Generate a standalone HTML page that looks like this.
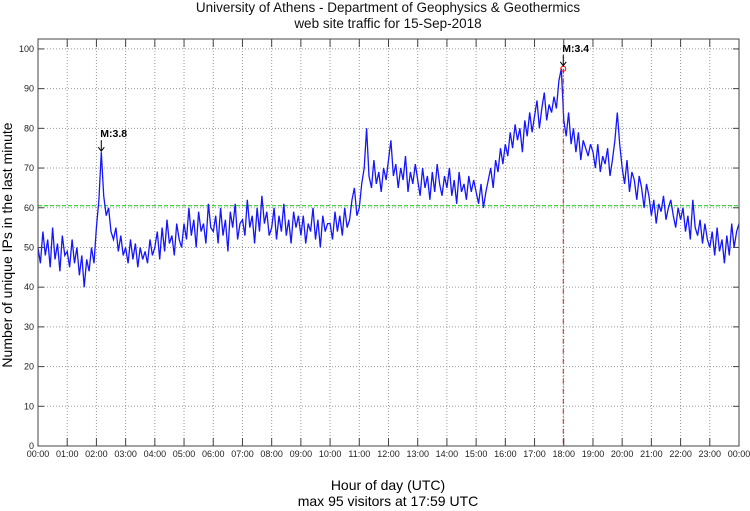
<!DOCTYPE html>
<html><head><meta charset="utf-8"><style>
html,body{margin:0;padding:0;background:#fff;}
svg{display:block;font-family:"Liberation Sans","DejaVu Sans",sans-serif;}
</style></head><body>
<svg id="chart" width="750" height="511" viewBox="0 0 750 511">
<text x="388" y="12" font-size="13.5" text-anchor="middle" fill="#111">University of Athens - Department of Geophysics &amp; Geothermics</text>
<text x="388" y="28" font-size="13.5" text-anchor="middle" fill="#111">web site traffic for 15-Sep-2018</text>
<g id="grid"></g>
<g id="series"></g>
<g id="axes"></g>
<text transform="translate(12,245) rotate(-90)" font-size="14" text-anchor="middle">Number of unique IPs in the last minute</text>
<text x="388" y="490" font-size="14" text-anchor="middle">Hour of day (UTC)</text>
<text x="388" y="506" font-size="14" text-anchor="middle">max 95 visitors at 17:59 UTC</text>
</svg>
<script>
const yTicks=[0,10,20,30,40,50,60,70,80,90,100];
const xTickLabels=["00:00","01:00","02:00","03:00","04:00","05:00","06:00","07:00","08:00","09:00","10:00","11:00","12:00","13:00","14:00","15:00","16:00","17:00","18:00","19:00","20:00","21:00","22:00","23:00","00:00"];
const stepMinutes=5;
const visitors=[
50,46,54,48,52,45,55,47,51,44,53,48,
49,45,52,46,50,43,48,40,47,44,50,46,
55,62,74,63,58,60,54,52,55,49,53,48,
50,46,52,47,51,45,50,47,49,46,52,48,
50,54,47,55,49,57,51,53,48,56,52,50,
56,52,60,53,57,50,59,54,56,51,61,55,
54,58,51,60,53,57,49,59,55,61,52,56,
57,53,62,55,58,51,60,54,63,56,59,53,
55,60,52,58,54,61,53,57,51,59,55,58,
53,58,51,56,54,60,52,57,50,58,54,56,
56,52,59,54,58,53,60,55,57,62,65,58,
60,66,70,80,68,65,72,66,69,64,70,67,
72,77,68,71,65,70,67,73,64,69,66,71,
67,63,70,65,68,62,69,64,71,66,63,68,
65,70,63,67,61,69,64,66,62,68,64,67,
64,61,66,60,64,67,70,65,72,69,75,71,
76,73,79,75,81,77,80,74,82,78,84,79,
83,87,80,85,89,82,86,84,88,85,92,95,
82,78,84,76,80,74,79,72,77,75,73,76,
74,70,76,69,73,71,75,68,72,77,84,76,
70,66,72,64,69,67,62,68,65,60,66,63,
58,62,56,61,59,63,57,60,62,58,55,60,
57,60,54,58,52,62,55,53,57,51,56,52,
50,54,48,55,49,52,46,53,48,56,50,54,
56];
const meanValue=[60.5];
const eventMinutes=[130];
const eventValues=[74];
const peakMinute=[1079];
const peakValue=[95];

const L=38,R=739,T=39,B=446,YMAX=102.5;
const xs=m=>L+(R-L)*m/1440;
const ys=v=>B-(B-T)*v/YMAX;
const NS="http://www.w3.org/2000/svg";
function mk(tag,attrs,parent){const e=document.createElementNS(NS,tag);for(const k in attrs)e.setAttribute(k,attrs[k]);parent.appendChild(e);return e;}
const grid=document.getElementById('grid'),axes=document.getElementById('axes'),series=document.getElementById('series');
mk('rect',{x:L,y:T,width:R-L,height:B-T,fill:'#fff'},grid);
yTicks.forEach(v=>{
 const y=ys(v);
 if(v>0){const g=mk('line',{x1:L,x2:R,y1:y,y2:y,stroke:'#999','stroke-dasharray':'1,2','stroke-width':1},grid);
 
 }
 mk('line',{x1:L,x2:L+6,y1:y,y2:y,stroke:'#444'},axes);
 mk('line',{x1:R,x2:R-6,y1:y,y2:y,stroke:'#444'},axes);
 const t=mk('text',{x:L-4,y:y+3,'font-size':9,'text-anchor':'end',fill:'#222'},axes);
 t.textContent=v;
 
 
});
xTickLabels.forEach((lab,i)=>{
 const x=xs(i*60);
 if(i>0&&i<24){const g=mk('line',{x1:x,x2:x,y1:T,y2:B,stroke:'#999','stroke-dasharray':'1,2','stroke-width':1},grid);
 
 }
 mk('line',{x1:x,x2:x,y1:B,y2:B-8,stroke:'#444'},axes);
 mk('line',{x1:x,x2:x,y1:T,y2:T+8,stroke:'#444'},axes);
 const t=mk('text',{x:x,y:B+11,'font-size':9,'text-anchor':'middle',fill:'#222'},axes);
 t.textContent=lab;
 
 
});
const my=ys(meanValue[0]);
const ml=mk('line',{x1:L,x2:R,y1:my,y2:my,stroke:'#00cc00','stroke-dasharray':'4,2','stroke-width':1},series);


const pts=visitors.map((v,i)=>xs(i*stepMinutes).toFixed(1)+','+ys(v).toFixed(1)).join(' ');
const pl=mk('polyline',{points:pts,fill:'none',stroke:'#1515ff','stroke-width':1.3},series);


const px=xs(peakMinute[0]),py=ys(peakValue[0]);
const vl=mk('line',{x1:px,x2:px,y1:py,y2:B,stroke:'#cc2222','stroke-dasharray':'5,2,1,2','stroke-width':1},series);


const pc=mk('circle',{cx:px,cy:py,r:2.5,fill:'none',stroke:'#e00','stroke-width':1},series);


function label(x,y,txt,name){
 mk('line',{x1:x,x2:x,y1:y-12,y2:y-1,stroke:'#000'},series);
 mk('path',{d:`M${x-3},${y-5} L${x},${y-1} L${x+3},${y-5}`,fill:'none',stroke:'#000'},series);
 const t=mk('text',{x:x-1,y:y-15,'font-size':10.5,'font-weight':'bold'},series);
 t.textContent=txt;
 
 
}
label(xs(eventMinutes[0]),ys(eventValues[0]),'M:3.8','quake-label-1');
label(px,py-2,'M:3.4','quake-label-2');
mk('rect',{x:L,y:T,width:R-L,height:B-T,fill:'none',stroke:'#444','stroke-width':1},axes);
</script>
</body></html>
